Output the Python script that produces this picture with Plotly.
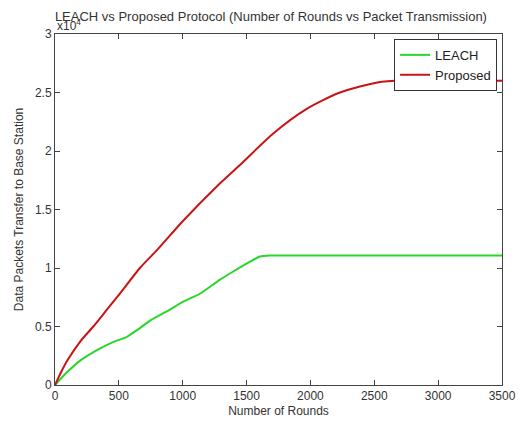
import plotly.graph_objects as go

rounds_leach = [0, 50, 100, 200, 350, 450, 560, 650, 750, 900, 1000, 1135, 1292, 1396, 1527, 1605, 1683, 2000, 2500, 3000, 3500]
packets_leach = [0, 600, 1150, 2100, 3100, 3650, 4100, 4750, 5550, 6450, 7100, 7800, 9000, 9700, 10540, 10980, 11070, 11070, 11070, 11070, 11070]

rounds_prop = [0, 50, 100, 200, 300, 400, 500, 665, 800, 1000, 1265, 1448, 1709, 1971, 2231, 2545, 2800, 3100, 3500]
packets_prop = [0, 1150, 2150, 3750, 5000, 6350, 7700, 10000, 11550, 14000, 16950, 18800, 21500, 23600, 25000, 25900, 26050, 26050, 26000]

y_tickvals = [0, 5000, 10000, 15000, 20000, 25000, 30000]
y_ticktext = ["0", "0.5", "1", "1.5", "2", "2.5", "3"]
x_tickvals = [0, 500, 1000, 1500, 2000, 2500, 3000, 3500]

font_family = "Liberation Sans, Arial, sans-serif"

fig = go.Figure()
fig.add_trace(go.Scatter(x=rounds_leach, y=packets_leach, mode="lines", name="LEACH",
                         line=dict(color="rgb(40,215,40)", width=2, shape="spline", smoothing=0.5)))
fig.add_trace(go.Scatter(x=rounds_prop, y=packets_prop, mode="lines", name="Proposed",
                         line=dict(color="rgb(200,20,20)", width=2, shape="spline", smoothing=0.7)))

axis_common = dict(showline=True, linecolor="#444", linewidth=1, mirror="ticks",
                   ticks="inside", ticklen=5, tickcolor="#444", showgrid=False,
                   zeroline=False, automargin=False,
                   tickfont=dict(size=12, color="#333", family=font_family))

fig.update_xaxes(range=[0, 3500], tickvals=x_tickvals, title=dict(text="Number of Rounds", standoff=4,
                 font=dict(size=12, color="#333", family=font_family)), **axis_common)
fig.update_yaxes(range=[0, 30000], tickvals=y_tickvals, ticktext=y_ticktext,
                 title=dict(text="Data Packets Transfer to Base Station", standoff=8,
                            font=dict(size=12, color="#333", family=font_family)), **axis_common)

fig.update_layout(
    width=524, height=421,
    margin=dict(l=55, r=22, t=34, b=36),
    paper_bgcolor="white", plot_bgcolor="white",
    font=dict(family=font_family, size=12, color="#333"),
    title=dict(text="LEACH vs Proposed Protocol (Number of Rounds vs Packet Transmission)",
               x=0.517, xanchor="center", y=0.962, yanchor="middle",
               font=dict(size=13, color="#333", family=font_family)),
    legend=dict(x=0.989, y=0.986, xanchor="right", yanchor="top",
                bgcolor="white", bordercolor="#333", borderwidth=1,
                font=dict(size=13, color="#222", family=font_family),
                tracegroupgap=0),
    showlegend=True,
)
fig.add_annotation(text="x10<sup>4</sup>", xref="paper", yref="paper", x=0, y=1,
                   xanchor="left", yanchor="bottom", showarrow=False, yshift=-1,
                   font=dict(size=12, color="#333", family=font_family))

fig.write_html("out.html", config={"displayModeBar": False},
               post_script="document.body.style.margin='0';document.body.style.overflow='hidden';")
